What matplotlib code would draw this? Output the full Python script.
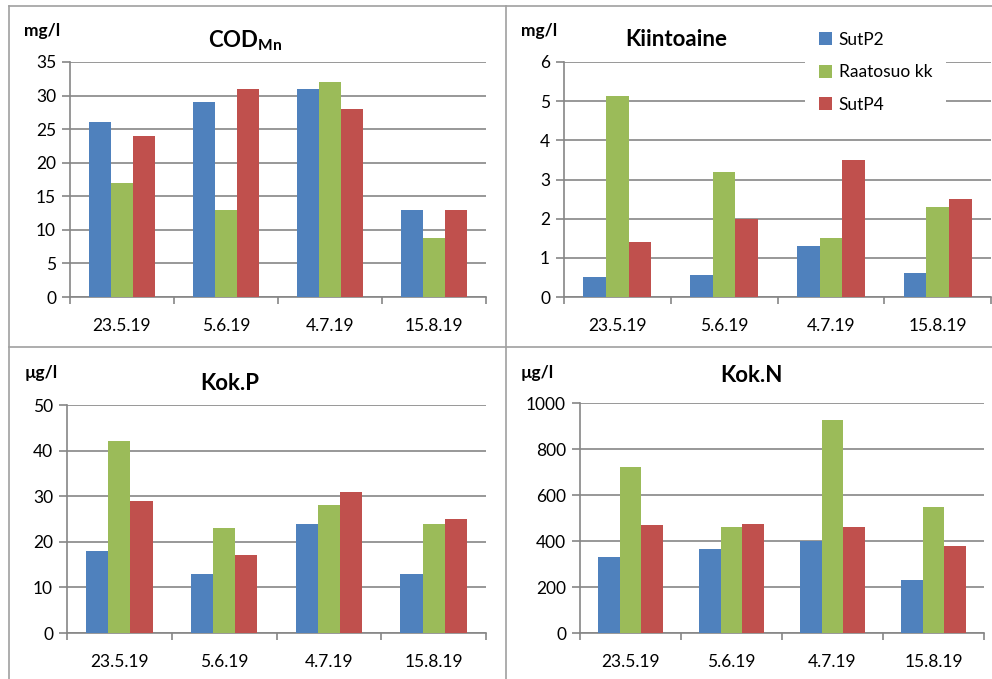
import matplotlib
matplotlib.use('Agg')
import matplotlib.pyplot as plt
import numpy as np
from matplotlib.lines import Line2D

plt.rcParams['font.family'] = ['Lato', 'DejaVu Sans']
plt.rcParams['mathtext.fontset'] = 'custom'
plt.rcParams['mathtext.rm'] = 'Lato'
plt.rcParams['mathtext.bf'] = 'Lato:bold'

dates = ['23.5.19', '5.6.19', '4.7.19', '15.8.19']
series = ['SutP2', 'Raatosuo kk', 'SutP4']
colors = ['#4F81BD', '#9BBB59', '#C0504D']

cod_sutp2 = [26, 29, 31, 13]
cod_raatosuo = [17, 13, 32, 8.8]
cod_sutp4 = [24, 31, 28, 13]

kiinto_sutp2 = [0.5, 0.55, 1.3, 0.62]
kiinto_raatosuo = [5.12, 3.2, 1.5, 2.3]
kiinto_sutp4 = [1.4, 2.0, 3.5, 2.5]

kokp_sutp2 = [18, 13, 24, 13]
kokp_raatosuo = [42, 23, 28, 24]
kokp_sutp4 = [29, 17, 31, 25]

kokn_sutp2 = [330, 365, 400, 230]
kokn_raatosuo = [720, 460, 925, 548]
kokn_sutp4 = [470, 475, 460, 380]

W, H = 992, 679
fig = plt.figure(figsize=(W / 100, H / 100), dpi=100)
grid_c = '#868686'


def px_axes(x0, y0, x1, y1):
    # pixel box (top-left origin) -> figure fraction
    return fig.add_axes([x0 / W, 1 - y1 / H, (x1 - x0) / W, (y1 - y0) / H])


def panel(box, data, ymax, step, title, unit, unit_xy, title_xy):
    ax = px_axes(*box)
    x = np.arange(len(dates))
    w = 0.212
    for i, vals in enumerate(data):
        ax.bar(x + (i - 1) * w, vals, w, color=colors[i], label=series[i], zorder=3)
    ax.set_xlim(-0.5, len(dates) - 0.5)
    ax.set_ylim(0, ymax)
    ax.set_yticks(np.arange(0, ymax + step / 2, step))
    ax.yaxis.grid(True, color=grid_c, lw=1.2, zorder=0)
    ax.set_xticks(x)
    ax.set_xticklabels(dates)
    ax.set_xticks(np.arange(-0.5, len(dates)), minor=True)
    ax.tick_params(axis='x', which='major', length=0, pad=15, labelsize=12.5)
    ax.tick_params(axis='x', which='minor', length=5, color=grid_c, width=1.2)
    ax.tick_params(axis='y', length=6, color=grid_c, width=1.2, labelsize=12.5, pad=4)
    for s in ['top', 'right']:
        ax.spines[s].set_visible(False)
    for s in ['left', 'bottom']:
        ax.spines[s].set_color(grid_c)
        ax.spines[s].set_linewidth(1.2)
    fig.text(unit_xy[0] / W, 1 - unit_xy[1] / H, unit, fontsize=12.5,
             fontweight='bold', ha='left', va='center')
    fig.text(title_xy[0] / W, 1 - title_xy[1] / H, title, fontsize=16,
             fontweight='bold', ha='center', va='center')
    return ax


panel((70, 62, 486, 297), [cod_sutp2, cod_raatosuo, cod_sutp4], 35, 5,
      r'$\mathbf{COD_{Mn}}$', 'mg/l', (24, 31), (245, 41))
ax2 = panel((564, 62, 991, 297), [kiinto_sutp2, kiinto_raatosuo, kiinto_sutp4], 6, 1,
            'Kiintoaine', 'mg/l', (521, 31), (676, 39))
panel((67, 405, 486, 633), [kokp_sutp2, kokp_raatosuo, kokp_sutp4], 50, 10,
      'Kok.P', 'µg/l', (25, 373), (230, 383))
panel((580, 403, 984, 633), [kokn_sutp2, kokn_raatosuo, kokn_sutp4], 1000, 200,
      'Kok.N', 'µg/l', (521, 373), (751, 375))

leg = ax2.legend(loc='upper left', bbox_to_anchor=(805 / W, 1 - 18 / H),
                 bbox_transform=fig.transFigure, frameon=True, fancybox=False,
                 handlelength=0.75, handleheight=0.75, handletextpad=0.4,
                 labelspacing=0.95, fontsize=12.5, borderpad=0.8, borderaxespad=0)
leg.get_frame().set_facecolor('white')
leg.get_frame().set_edgecolor('none')
leg.get_frame().set_alpha(1)
leg.set_zorder(10)

# panel borders
border_c = '#A0A0A0'
for xs, ys in [((9, 992), (6, 6)), ((9, 9), (6, 679)), ((506, 506), (6, 679)),
               ((9, 992), (347, 347))]:
    fig.add_artist(Line2D([xs[0] / W, xs[1] / W], [1 - ys[0] / H, 1 - ys[1] / H],
                          color=border_c, lw=1.2))

fig.savefig('out.png', dpi=100)
